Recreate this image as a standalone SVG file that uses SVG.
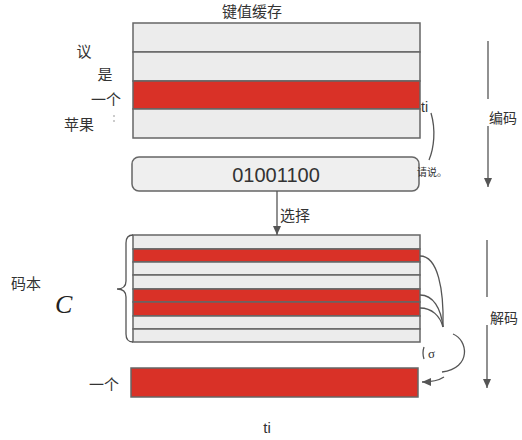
<svg xmlns="http://www.w3.org/2000/svg" width="522" height="440" viewBox="0 0 522 440">
<style>
.cjk{font-family:"Noto Sans CJK SC","Liberation Sans",sans-serif;fill:#333}
.lat{font-family:"Liberation Sans",sans-serif;fill:#333}
.g{fill:#ececec;stroke:#666;stroke-width:1.5}
.r{fill:#d93127;stroke:#666;stroke-width:1.5}
.ln{fill:none;stroke:#555;stroke-width:1.3}
</style>
<defs>
<marker id="ah" markerWidth="10" markerHeight="10" refX="9" refY="5" orient="auto" markerUnits="userSpaceOnUse">
<path d="M0,1 L9,5 L0,9 Z" fill="#555"/>
</marker>
</defs>
<rect width="522" height="440" fill="#fff"/>

<g id="title"><text class="cjk" x="252" y="17" font-size="15" text-anchor="middle">键值缓存</text></g>

<g id="kvcache">
<rect class="g" x="133" y="23" width="287" height="29"/>
<rect class="g" x="133" y="52" width="287" height="29"/>
<rect class="r" x="133" y="81" width="287" height="28"/>
<rect class="g" x="133" y="109" width="287" height="29"/>
</g>
<g id="tokens">
<text class="cjk" x="84" y="57" font-size="15" text-anchor="middle">议</text>
<text class="cjk" x="105" y="80" font-size="15" text-anchor="middle">是</text>
<text class="cjk" x="106" y="105" font-size="15" text-anchor="middle">一个</text>
<text class="cjk" x="79" y="130" font-size="15" text-anchor="middle">苹果</text>
<path d="M114 115 L114 117 M114 120 L114 122" stroke="#999" stroke-width="1"/>
</g>
<g id="ti-top"><text class="lat" x="421" y="112" font-size="14">ti</text></g>

<g id="code">
<rect x="132" y="157" width="287" height="34" rx="7" fill="#efefef" stroke="#666" stroke-width="1.5"/>
<text class="lat" x="276" y="182" font-size="20" text-anchor="middle">01001100</text>
</g>
<g id="prompt"><text class="cjk" x="417" y="176" font-size="10">请说。</text></g>

<g id="codebook">
<rect class="g" x="133" y="235" width="287" height="14"/>
<rect class="r" x="133" y="249" width="287" height="13"/>
<rect class="g" x="133" y="262" width="287" height="13"/>
<rect class="g" x="133" y="275" width="287" height="14"/>
<rect class="r" x="133" y="289" width="287" height="13"/>
<rect class="r" x="133" y="302" width="287" height="14"/>
<rect class="g" x="133" y="316" width="287" height="13"/>
<rect class="g" x="133" y="329" width="287" height="13"/>
<path class="ln" d="M133 235 Q126 235 126 243 L126 281 Q126 289 117 289 Q126 289 126 297 L126 334 Q126 342 133 342"/>
</g>
<g id="codebook-label">
<text class="cjk" x="26" y="289" font-size="15" text-anchor="middle">码本</text>
<text x="55" y="313" font-family="Liberation Serif,serif" font-style="italic" font-size="26" fill="#222">C</text>
</g>

<g id="output">
<rect class="r" x="131" y="368" width="287" height="29"/>
<text class="cjk" x="104" y="390" font-size="15" text-anchor="middle">一个</text>
</g>
<g id="ti-bottom"><text class="lat" x="267" y="433" font-size="15" text-anchor="middle">ti</text></g>

<g id="connectors">
<path class="ln" d="M431 113 C436 130 434 148 429 160"/>
<path class="ln" d="M277 191 L277 235" marker-end="url(#ah)"/>
<path class="ln" d="M420 256 C438 256 444 290 443 327"/>
<path class="ln" d="M420 295 C433 295 441 308 443 327"/>
<path class="ln" d="M420 308 C432 308 440 316 443 327"/>
<path class="ln" d="M453 334 C468 340 472 368 442 372"/>
<path class="ln" d="M424 347 Q422 353 424 359"/>
<path class="ln" d="M444 377 C438 381 430 382 422 382" marker-end="url(#ah)"/>
<path class="ln" d="M488 41 L488 99"/>
<path class="ln" d="M488 126 L488 187" marker-end="url(#ah)"/>
<path class="ln" d="M487 240 L487 297"/>
<path class="ln" d="M487 325 L487 388" marker-end="url(#ah)"/>
</g>
<g id="sigma"><text x="428" y="358" font-family="Liberation Serif,serif" font-size="13" fill="#333">σ</text></g>
<g id="labels">
<text class="cjk" x="503" y="123" font-size="14" text-anchor="middle">编码</text>
<text class="cjk" x="280" y="221" font-size="15">选择</text>
<text class="cjk" x="504" y="323" font-size="14" text-anchor="middle">解码</text>
</g>
</svg>
